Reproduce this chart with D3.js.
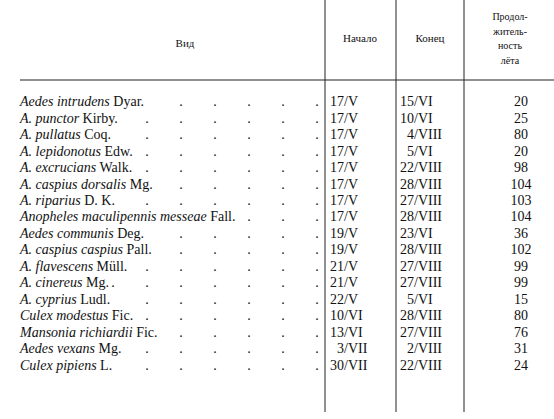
<!DOCTYPE html><html><head><meta charset="utf-8"><script src="https://cdn.jsdelivr.net/npm/d3@7"></script>
<style>body{margin:0;background:#fff}text{font-family:"Liberation Serif",serif;fill:#111}</style></head><body><svg width="554" height="419"></svg><script>
const species=["Aedes intrudens","A. punctor","A. pullatus","A. lepidonotus","A. excrucians","A. caspius dorsalis","A. riparius","Anopheles maculipennis messeae","Aedes communis","A. caspius caspius","A. flavescens","A. cinereus","A. cyprius","Culex modestus","Mansonia richiardii","Aedes vexans","Culex pipiens"];
const authors=["Dyar.","Kirby.","Coq.","Edw.","Walk.","Mg.","D. K.","Fall.","Deg.","Pall.","Müll.","Mg.","Ludl.","Fic.","Fic.","Mg.","L."];
const starts=["17/V","17/V","17/V","17/V","17/V","17/V","17/V","17/V","19/V","19/V","21/V","21/V","22/V","10/VI","13/VI","3/VII","30/VII"];
const ends=["15/VI","10/VI","4/VIII","5/VI","22/VIII","28/VIII","27/VIII","28/VIII","23/VI","28/VIII","27/VIII","27/VIII","5/VI","28/VIII","27/VIII","2/VIII","22/VIII"];
const durations=[20,25,80,20,98,104,103,104,36,102,99,99,15,80,76,31,24];
const headers=["Вид","Начало","Конец"];
const durHeader=["Продол-","житель-","ность","лёта"];
const svg=d3.select("svg");
const y=d3.scaleBand().domain(d3.range(species.length)).range([93,373]);
const colX=[325,396,464];
colX.forEach(x=>{svg.append("line").attr("x1",x).attr("x2",x).attr("y1",0).attr("y2",412).attr("stroke","#222").attr("stroke-width",1);});
svg.append("line").attr("x1",20).attr("x2",554).attr("y1",80).attr("y2",80).attr("stroke","#222").attr("stroke-width",1.2);
svg.append("text").attr("x",185).attr("y",47).attr("text-anchor","middle").attr("font-size",11).text(headers[0]);
svg.append("text").attr("x",360).attr("y",42).attr("text-anchor","middle").attr("font-size",11).text(headers[1]);
svg.append("text").attr("x",430).attr("y",42).attr("text-anchor","middle").attr("font-size",11).text(headers[2]);
durHeader.forEach((t,i)=>svg.append("text").attr("x",510).attr("y",20+i*14.5).attr("text-anchor","middle").attr("font-size",10).text(t));
const pad=s=>(s.split("/")[0].length<2?"\u2007":"")+s;
const base=i=>y(i)+y.bandwidth()*0.8;
species.forEach((d,i)=>{
  const t=svg.append("text").attr("x",20).attr("y",base(i)).attr("font-size",14);
  t.append("tspan").attr("font-style","italic").text(d);
  t.append("tspan").text(" "+authors[i]);
  const end=20+t.node().getComputedTextLength();
  d3.range(0,9).map(k=>317-34*k).filter(x=>x>end+4).forEach(x=>
    svg.append("text").attr("x",x).attr("y",base(i)).attr("font-size",14).attr("text-anchor","middle").text("."));
  svg.append("text").attr("x",330).attr("y",base(i)).attr("font-size",14).text(pad(starts[i]));
  svg.append("text").attr("x",400).attr("y",base(i)).attr("font-size",14).text(pad(ends[i]));
  svg.append("text").attr("x",521).attr("y",base(i)).attr("text-anchor","middle").attr("font-size",14).text(durations[i]);
});
</script></body></html>
